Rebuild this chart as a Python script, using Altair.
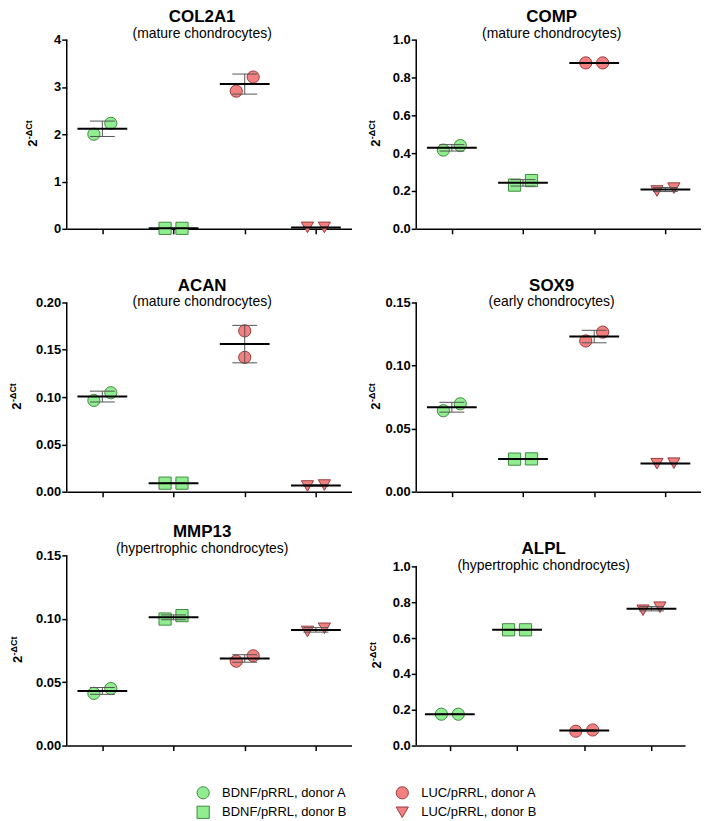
import altair as alt
import pandas as pd

# ---------------- data ----------------
groups = ["BDNF/pRRL, donor A", "BDNF/pRRL, donor B", "LUC/pRRL, donor A", "LUC/pRRL, donor B"]

genes = ["COL2A1", "COMP", "ACAN", "SOX9", "MMP13", "ALPL"]
cell_types = ["(mature chondrocytes)", "(mature chondrocytes)", "(mature chondrocytes)",
              "(early chondrocytes)", "(hypertrophic chondrocytes)", "(hypertrophic chondrocytes)"]

# two replicate values per group, in the order of `groups`
col2a1 = [[2.00, 2.23], [0.01, 0.01], [2.91, 3.21], [0.03, 0.03]]
comp = [[0.416, 0.440], [0.231, 0.255], [0.877, 0.877], [0.200, 0.215]]
acan = [[0.0965, 0.1046], [0.0090, 0.0090], [0.170, 0.142], [0.0060, 0.0070]]
sox9 = [[0.0642, 0.0697], [0.0258, 0.0260], [0.1195, 0.1265], [0.0222, 0.0226]]
mmp13 = [[0.0412, 0.0450], [0.0998, 0.1025], [0.0666, 0.0708], [0.0900, 0.0925]]
alpl = [[0.175, 0.175], [0.646, 0.646], [0.080, 0.087], [0.755, 0.772]]
values = [col2a1, comp, acan, sox9, mmp13, alpl]

y_ticks = [
    [0, 1, 2, 3, 4],
    [0, 0.2, 0.4, 0.6, 0.8, 1.0],
    [0, 0.05, 0.10, 0.15, 0.20],
    [0, 0.05, 0.10, 0.15],
    [0, 0.05, 0.10, 0.15],
    [0, 0.2, 0.4, 0.6, 0.8, 1.0],
]
y_formats = ["d", ".1f", ".2f", ".2f", ".2f", ".1f"]

# groups whose two replicates are drawn on top of each other (no side dodge)
stacked = {"ACAN": [groups[2]]}

y_title_base = "2"
y_title_sup = "-\u0394Ct"

# ---------------- styles ----------------
FONT = "Liberation Sans"
fills = ["#90EE90", "#90EE90", "#F28080", "#F28080"]
strokes = ["#3F8A3F", "#3F8A3F", "#9A3A3A", "#9A3A3A"]
shapes = ["circle", "square", "circle", "triangle-down"]

# per panel layout: width, height, top extension (px), title offset, y-title x
layout = [
    (286, 190, 0, -8, -30),
    (286, 190, 0, -8, -36),
    (286, 200, 10, -18, -46),
    (286, 200, 10, -18, -36),
    (286, 191, 0, -8, -45),
    (270, 191, 11, -19, -35),
]


def panel(i):
    gene = genes[i]
    vals = values[i]
    ticks = y_ticks[i]
    width, height, ext, t_off, title_x = layout[i]
    rows = []
    for gi, (g, pair) in enumerate(zip(groups, vals)):
        for ri, v in enumerate(pair):
            side = 0 if g in stacked.get(gene, []) else (-1 if ri == 0 else 1)
            rows.append({"group": g, "gidx": gi, "side": side, "value": v})
    df = pd.DataFrame(rows)

    unit = width / 4.0
    dodge = 8.5 / unit
    half_mean = 25.0 / unit
    half_cap = 12.5 / unit

    top = ticks[-1]
    dom_top = top * height / (height - ext)
    yc = ext + (height - ext) / 2.0

    xscale = alt.Scale(domain=[-0.5, 3.5], nice=False, zero=False)
    yscale = alt.Scale(domain=[0, dom_top], nice=False, zero=True)
    xaxis = alt.Axis(values=[0, 1, 2, 3], labels=False, title=None, grid=False,
                     tickSize=5, domainColor="black", tickColor="black",
                     domainWidth=1.5, tickWidth=1.5)
    yaxis = alt.Axis(values=ticks, format=y_formats[i], title=None, grid=False,
                     domain=False, tickSize=5, tickColor="black", tickWidth=1.5,
                     labelFont=FONT, labelFontSize=13, labelFontWeight="bold",
                     labelColor="black", labelPadding=1)

    leg = alt.Legend(title=None)
    pts = alt.Chart(df).transform_calculate(
        xp=f"datum.gidx + datum.side * {dodge}"
    ).mark_point(filled=True, opacity=1, size=150, strokeWidth=1).encode(
        x=alt.X("xp:Q", scale=xscale, axis=xaxis),
        y=alt.Y("value:Q", scale=yscale, axis=yaxis),
        fill=alt.Fill("group:N", scale=alt.Scale(domain=groups, range=fills), legend=leg),
        stroke=alt.Stroke("group:N", scale=alt.Scale(domain=groups, range=strokes), legend=leg),
        shape=alt.Shape("group:N", scale=alt.Scale(domain=groups, range=shapes), legend=leg),
    )

    agg = alt.Chart(df).transform_aggregate(
        m="mean(value)", sd="stdev(value)", groupby=["gidx"]
    ).transform_calculate(
        lo="datum.m - datum.sd", hi="datum.m + datum.sd",
        xl=f"datum.gidx - {half_mean}", xr=f"datum.gidx + {half_mean}",
        cl=f"datum.gidx - {half_cap}", cr=f"datum.gidx + {half_cap}",
    )
    vbar = agg.mark_rule(color="#555555", strokeWidth=1).encode(
        x=alt.X("gidx:Q", scale=xscale, axis=xaxis),
        y=alt.Y("lo:Q", scale=yscale, axis=yaxis), y2="hi:Q")
    cap_hi = agg.mark_rule(color="#555555", strokeWidth=1).encode(
        x=alt.X("cl:Q", scale=xscale, axis=xaxis), x2="cr:Q",
        y=alt.Y("hi:Q", scale=yscale, axis=yaxis))
    cap_lo = agg.mark_rule(color="#555555", strokeWidth=1).encode(
        x=alt.X("cl:Q", scale=xscale, axis=xaxis), x2="cr:Q",
        y=alt.Y("lo:Q", scale=yscale, axis=yaxis))
    meanl = agg.mark_rule(color="black", strokeWidth=2).encode(
        x=alt.X("xl:Q", scale=xscale, axis=xaxis), x2="xr:Q",
        y=alt.Y("m:Q", scale=yscale, axis=yaxis))

    dom_df = pd.DataFrame({"a": [0], "b": [top]})
    dom = alt.Chart(dom_df).mark_rule(color="black", strokeWidth=1.5).encode(
        x=alt.value(0), y=alt.Y("a:Q", scale=yscale, axis=yaxis), y2="b:Q")

    t_base = alt.Chart(dom_df).mark_text(
        angle=270, align="center", baseline="alphabetic", font=FONT,
        fontSize=13, fontWeight="bold", color="black"
    ).encode(x=alt.value(title_x), y=alt.value(yc + 9), text=alt.value(y_title_base))
    t_sup = alt.Chart(dom_df).mark_text(
        angle=270, align="center", baseline="alphabetic", font=FONT,
        fontSize=9, fontWeight="bold", color="black"
    ).encode(x=alt.value(title_x - 5), y=alt.value(yc - 4.5), text=alt.value(y_title_sup))

    return alt.layer(pts, vbar, cap_hi, cap_lo, meanl, dom, t_base, t_sup).properties(
        width=width, height=height,
        title=alt.TitleParams(gene, subtitle=cell_types[i], offset=t_off, dx=-7),
    )


chart = alt.concat(
    *[panel(i) for i in range(6)],
    columns=2,
    spacing={"row": 64, "column": 65},
    bounds="flush",
    align="each",
).properties(
    padding={"left": 1, "top": -2, "right": 0, "bottom": 0}
).configure_view(stroke=None).configure_title(
    font=FONT, fontSize=17, fontWeight="bold", color="black", anchor="middle",
    subtitleFont=FONT, subtitleFontSize=14, subtitleColor="black", subtitlePadding=1,
).configure_legend(
    orient="none", legendX=130, legendY=749, columns=2, columnPadding=47,
    rowPadding=2, labelFont=FONT, labelFontSize=13, labelColor="black",
    symbolSize=150, symbolStrokeWidth=1, labelOffset=12, padding=0,
    symbolOpacity=1,
)

chart.save("out.html", embed_options={"renderer": "svg", "actions": False})
